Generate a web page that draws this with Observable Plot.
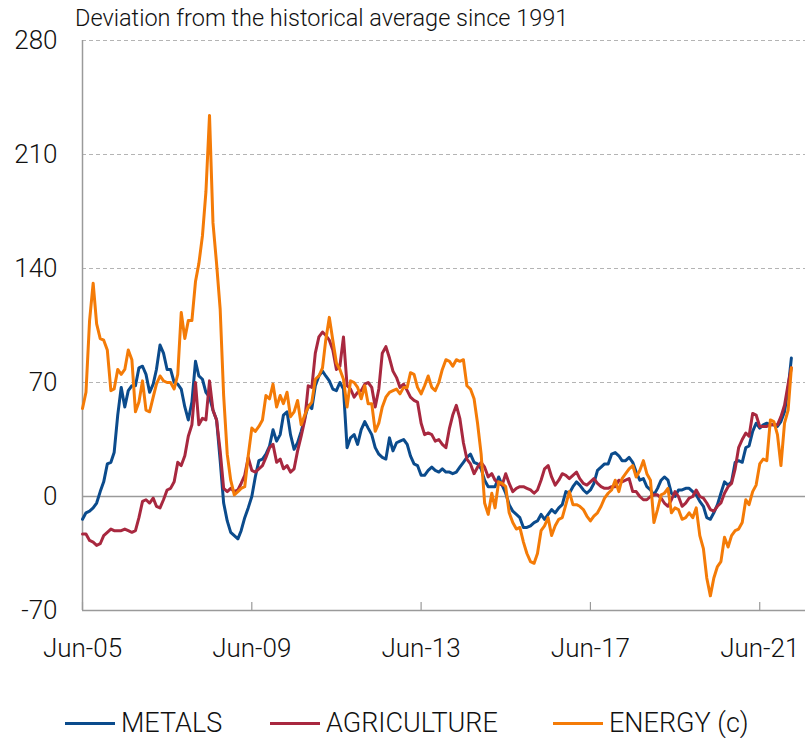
<!DOCTYPE html>
<html><head><meta charset="utf-8">
<script src="https://cdn.jsdelivr.net/npm/d3@7"></script>
<script src="https://cdn.jsdelivr.net/npm/@observablehq/plot@0.6"></script>
<style>
body{margin:0;background:#fff;font-family:Roboto,"Liberation Sans",sans-serif;}
#wrap{position:relative;width:807px;height:738px;overflow:hidden;}
#title{position:absolute;left:75px;top:4px;font-size:23.5px;font-weight:300;color:#111;white-space:nowrap;}
.leg{position:absolute;top:707px;display:flex;align-items:center;font-size:27px;font-weight:300;color:#111;white-space:nowrap;}
.sw{width:50px;height:3px;margin-right:6px;}
</style></head><body>
<div id="wrap"><div id="chart"></div><div id="title">Deviation from the historical average since 1991</div><div id="legend"></div></div>
<script>
const seriesNames = ["METALS", "AGRICULTURE", "ENERGY (c)"];
const seriesColors = ["#0b4b8c", "#a8283f", "#f47b07"];
const yTicks = [-70, 0, 70, 140, 210, 280];
const xTickLabels = ["Jun-05", "Jun-09", "Jun-13", "Jun-17", "Jun-21"];
const xTickYears = [2005, 2009, 2013, 2017, 2021];

const metals = [
-14,-10,-9,-7,-4,3,9,20,21,27,
50,67,55,65,68,68,79,80,75,64,
69,78,93,88,78,78,70,69,66,55,
47,58,83,74,72,64,61,53,47,22,
-4,-15,-22,-24,-26,-21,-13,-7,0,12,
22,23,26,31,41,34,38,50,52,38,
29,33,40,48,56,54,68,74,77,74,
71,66,65,70,66,30,36,38,32,41,
46,42,38,30,26,24,23,36,28,33,
34,35,32,25,20,19,13,13,16,18,
16,15,17,15,15,14,15,18,21,24,
26,21,20,17,10,6,6,6,12,7,
2,-5,-9,-11,-13,-19,-19,-18,-16,-15,
-11,-14,-11,-8,-10,-7,-5,3,2,6,
9,7,4,2,4,8,16,18,20,20,
26,27,25,22,22,24,21,15,10,11,
6,4,1,5,10,12,10,2,0,4,
4,5,5,3,1,-3,-6,-13,-14,-10,
-5,2,9,7,9,21,22,21,30,31,
40,45,42,44,45,44,44,43,46,52,
66,85];

const agriculture = [
-23,-23,-27,-28,-30,-29,-24,-22,-20,-21,
-21,-21,-20,-21,-22,-21,-13,-3,-2,-4,
-1,-6,-7,-2,4,5,9,21,19,25,
37,44,70,44,48,47,71,53,47,28,
5,3,5,3,4,8,13,24,16,15,
17,19,24,30,32,21,23,17,19,15,
17,28,37,47,68,67,88,98,101,99,
96,90,78,80,98,68,66,61,64,65,
69,70,67,55,66,88,92,85,77,73,
67,69,65,61,59,58,45,38,39,38,
34,35,32,30,42,50,56,48,33,23,
20,14,18,21,18,12,14,10,8,7,
14,8,3,5,6,6,5,4,2,4,
10,17,19,12,7,10,14,13,11,13,
15,11,8,7,9,11,8,6,5,5,
6,6,10,9,10,11,3,3,0,-2,
-2,0,1,1,-1,-4,-6,-2,3,0,
-6,-4,-1,0,4,0,-1,-4,-8,-9,
-6,-4,2,6,8,17,30,35,39,37,
51,50,43,43,43,44,44,44,49,56,
69,79];

const energy = [
54,64,108,131,106,97,96,90,65,66,
78,75,78,90,84,52,58,71,53,52,
61,69,74,71,70,70,66,75,113,97,
108,108,132,143,160,187,234,168,143,115,
62,26,10,1,3,5,6,25,42,40,
43,47,62,60,69,55,62,57,64,49,
52,59,44,50,55,58,72,74,79,96,
110,96,82,78,72,55,71,70,67,60,
68,57,57,40,45,55,61,64,65,66,
63,67,67,76,75,67,63,68,74,67,
65,70,78,84,83,80,84,83,84,68,
66,60,45,26,-4,-11,2,-7,9,8,
6,-10,-16,-20,-19,-28,-35,-40,-41,-35,
-21,-18,-13,-24,-18,-14,-13,-5,3,-5,
-5,-6,-8,-12,-15,-12,-10,-6,-1,2,
4,10,3,11,14,17,19,12,16,22,
14,10,-16,-8,1,2,5,-10,-7,-8,
-14,-13,-10,-13,-7,-24,-32,-50,-61,-50,
-43,-40,-25,-31,-24,-21,-20,-16,-2,-5,
3,7,20,23,22,47,46,38,19,45,
53,79];

const seriesValues = [metals, agriculture, energy];
const startDate = new Date(Date.UTC(2005, 5, 1));
const endDate = new Date(Date.UTC(2022, 6, 1));
const dates = metals.map((_, i) => d3.utcMonth.offset(startDate, i));
const xTickDates = xTickYears.map(y => new Date(Date.UTC(y, 5, 1)));

const rows = [];
seriesNames.forEach((name, k) => {
  seriesValues[k].forEach((v, i) => rows.push({date: dates[i], value: v, series: name}));
});

const W = 807, H = 680, mT = 40, mB = 70, mL = 82, mR = 2;
const plotH = H - mT - mB;
const axisColor = "#9a9a9a";
const font = "Roboto, 'Liberation Sans', sans-serif";

const chart = Plot.plot({
  width: W, height: H,
  marginTop: mT, marginBottom: mB, marginLeft: mL, marginRight: mR,
  style: {fontFamily: font, fontWeight: 300, color: "#111", background: "#fff", overflow: "visible"},
  x: {type: "utc", domain: [startDate, endDate], label: null},
  y: {domain: [-70, 280], label: null},
  color: {domain: seriesNames, range: seriesColors},
  marks: [
    Plot.ruleY(yTicks.filter(v => v > 0), {stroke: "#b4b4b4", strokeWidth: 1, strokeDasharray: "4,3"}),
    Plot.ruleY([0], {stroke: axisColor, strokeWidth: 1.5}),
    Plot.ruleY([-70], {stroke: axisColor, strokeWidth: 1.5}),
    Plot.ruleX([startDate], {stroke: axisColor, strokeWidth: 1.5}),
    Plot.tickX(xTickDates, {x: d => d, stroke: axisColor, strokeWidth: 1.2, insetTop: plotH - 8}),
    Plot.axisY(yTicks, {tickSize: 0, tickPadding: 25, fontSize: 26, fill: "#111", label: null, tickFormat: d => `${d}`}),
    Plot.axisX(xTickDates, {tickSize: 0, tickPadding: 28, fontSize: 26, fill: "#111", label: null,
      tickFormat: d => xTickLabels[xTickDates.findIndex(t => +t === +d)]}),
    Plot.line(rows, {x: "date", y: "value", z: "series", stroke: "series", strokeWidth: 3, strokeLinejoin: "round"})
  ]
});
document.getElementById("chart").appendChild(chart);

const legendPos = [65, 270, 553];
const legend = document.getElementById("legend");
seriesNames.forEach((name, k) => {
  const item = document.createElement("div");
  item.className = "leg";
  item.style.left = legendPos[k] + "px";
  const sw = document.createElement("div");
  sw.className = "sw";
  sw.style.background = seriesColors[k];
  const label = document.createElement("span");
  label.textContent = name;
  item.appendChild(sw);
  item.appendChild(label);
  legend.appendChild(item);
});
</script>
</body></html>
